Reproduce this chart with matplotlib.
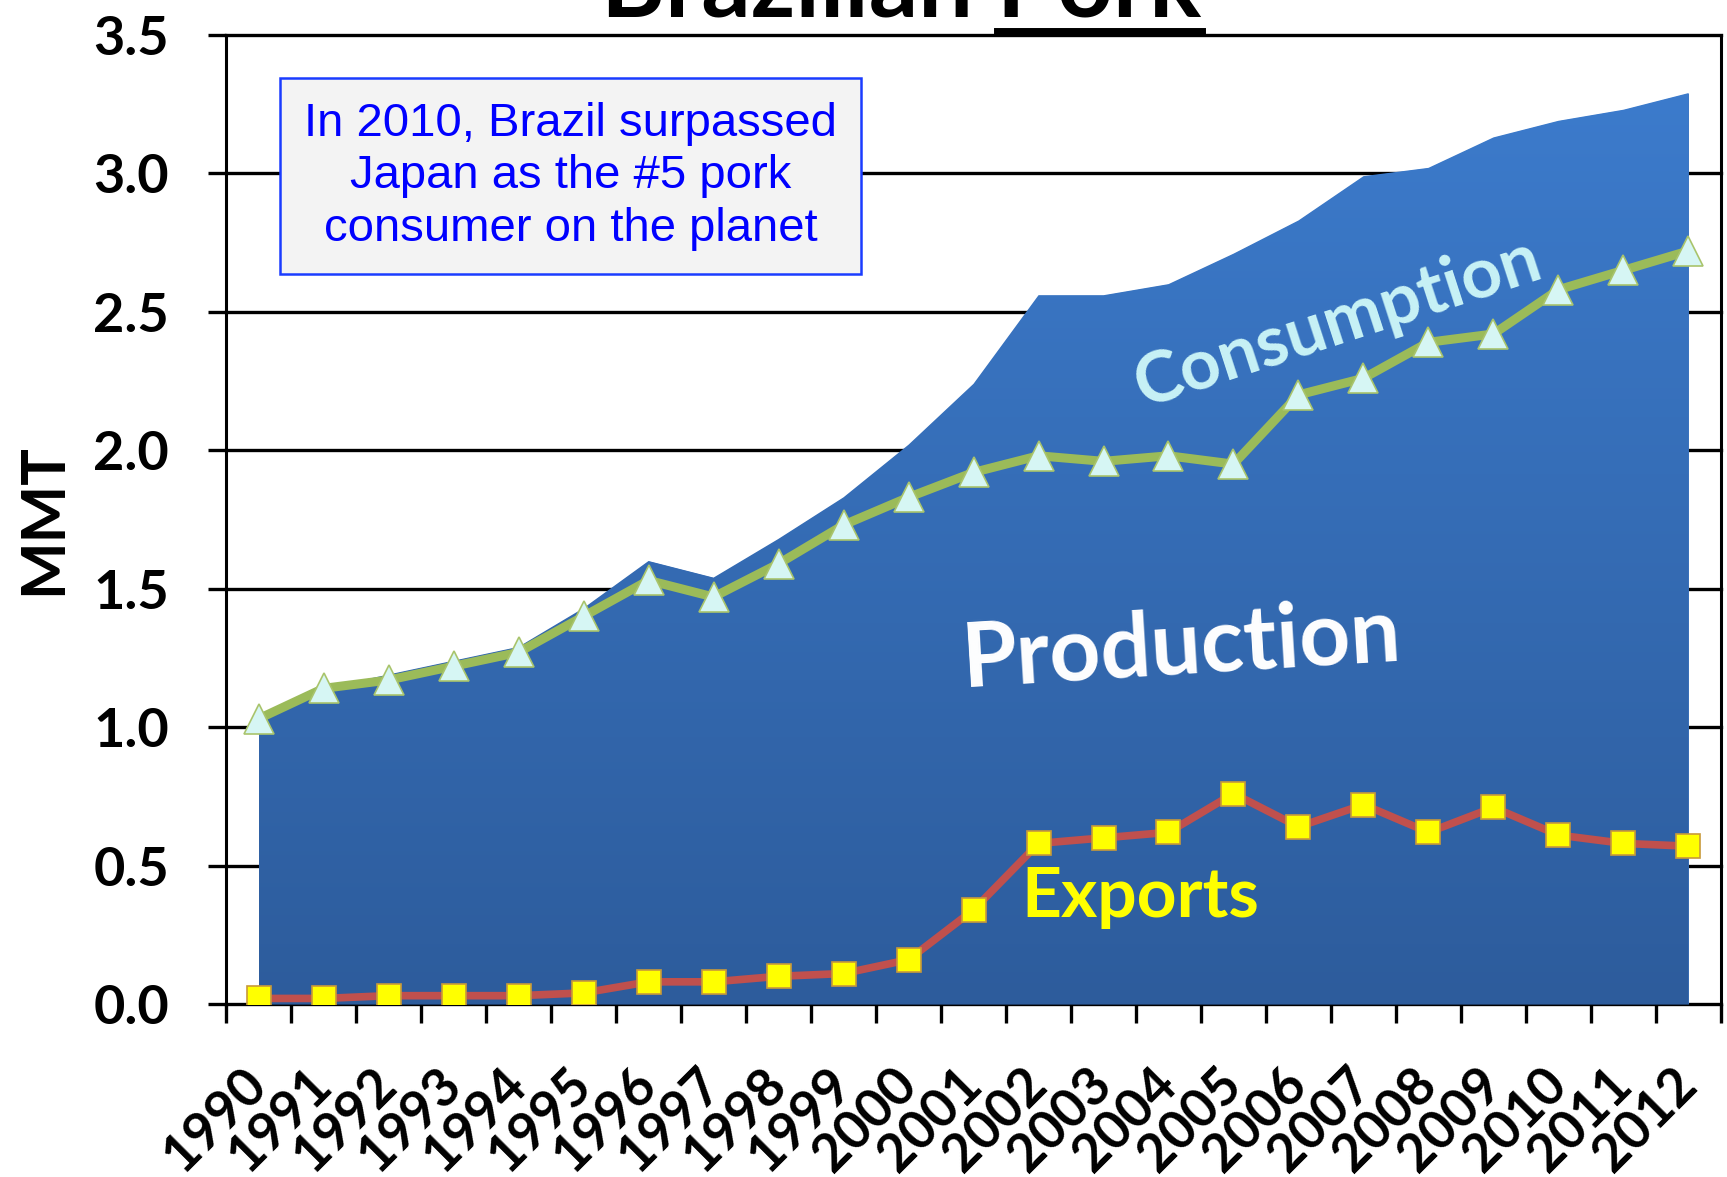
import numpy as np
import matplotlib
matplotlib.use('Agg')
import matplotlib.pyplot as plt
from matplotlib.colors import LinearSegmentedColormap

# Brazilian pork, million metric tons
years = [str(y) for y in range(1990, 2013)]
production = [1.04, 1.14, 1.19, 1.24, 1.29, 1.43, 1.60, 1.54, 1.68, 1.83, 2.02, 2.24,
              2.56, 2.56, 2.60, 2.71, 2.83, 2.99, 3.02, 3.13, 3.19, 3.23, 3.29]
consumption = [1.03, 1.14, 1.17, 1.22, 1.27, 1.40, 1.53, 1.47, 1.59, 1.73, 1.83, 1.92,
               1.98, 1.96, 1.98, 1.95, 2.20, 2.26, 2.39, 2.42, 2.58, 2.65, 2.72]
exports = [0.02, 0.02, 0.03, 0.03, 0.03, 0.04, 0.08, 0.08, 0.10, 0.11, 0.16, 0.34,
           0.58, 0.60, 0.62, 0.76, 0.64, 0.72, 0.62, 0.71, 0.61, 0.58, 0.57]
y_ticks = [0.0, 0.5, 1.0, 1.5, 2.0, 2.5, 3.0, 3.5]

font = ['Lato', 'DejaVu Sans']
x = np.arange(len(years))

fig = plt.figure(figsize=(17.27, 11.77), dpi=100)
ax = fig.add_axes([0.1309, 0.1470, 0.8656, 0.8233])

# production area with a vertical gradient
area = ax.fill_between(x, 0, production, color='#3a72c0', lw=0, zorder=2)
grad = LinearSegmentedColormap.from_list('g', ['#2d5c9c', '#3c7bcc'])
img = ax.imshow(np.linspace(0, 1, 256).reshape(-1, 1), cmap=grad, aspect='auto',
                origin='lower', extent=(x[0], x[-1], 0, max(production)), zorder=2)
img.set_clip_path(area.get_paths()[0], transform=ax.transData)

ax.plot(x, consumption, color='#9bbb59', lw=6.5, marker='^', ms=22,
        mfc='#d6f6f4', mec='#a9c46c', mew=1.2, zorder=4)
ax.plot(x, exports, color='#c0504d', lw=5.5, marker='s', ms=17,
        mfc='#ffff00', mec='#c89a3a', mew=1.2, zorder=5)

ax.set_xlim(-0.5, len(years) - 0.5)
ax.set_ylim(0, 3.5)

# grid lines behind the area
for v in y_ticks:
    ax.axhline(v, color='black', lw=2.4, zorder=1, clip_on=False)
for s in ['top', 'bottom']:
    ax.spines[s].set_visible(False)
for s in ['left', 'right']:
    ax.spines[s].set_linewidth(2.2)

ax.set_yticks(y_ticks)
ax.set_yticklabels([f'{v:.1f}' for v in y_ticks], fontfamily=font,
                   fontweight='bold', fontsize=39)
ax.tick_params(axis='y', length=13, width=2.4, pad=28)

ax.set_xticks(np.arange(-0.5, len(years), 1.0))
ax.set_xticklabels([])
ax.tick_params(axis='x', which='major', length=14, width=2.4)
ax.set_xticks(x, minor=True)
ax.set_xticklabels(years, minor=True, rotation=45, ha='right', va='center',
                   rotation_mode='anchor', fontfamily=font, fontweight='bold', fontsize=38)
ax.tick_params(axis='x', which='minor', length=0, pad=52)

ax.set_ylabel('MMT', fontfamily=font, fontweight='bold', fontsize=44, labelpad=16)

ax.text(16.6, 2.46, 'Consumption', rotation=18, color='#c8f2f6', fontfamily=font,
        fontweight='bold', fontsize=51, ha='center', va='center', zorder=6)
ax.text(14.2, 1.29, 'Production', rotation=3.5, color='white', fontfamily=font,
        fontweight='bold', fontsize=64, ha='center', va='center', zorder=6)
ax.text(13.56, 0.385, 'Exports', color='#ffff00', fontfamily=font,
        fontweight='bold', fontsize=50, ha='center', va='center', zorder=6)

ax.text(4.8, 2.99, 'In 2010, Brazil surpassed\nJapan as the #5 pork\nconsumer on the planet',
        color='#0000ff', fontfamily='Liberation Sans', fontsize=34, ha='center', va='center',
        linespacing=1.25, zorder=7,
        bbox=dict(boxstyle='square,pad=0.5', fc='#f3f3f3', ec='#1a3cff', lw=1.8))

# title mostly cut off by the top edge, "Pork" underlined
ty = 0.986
title = fig.text(0.522, ty, 'Brazilian Pork', fontfamily=font, fontweight='bold',
                 fontsize=70, ha='center', va='baseline')
fig.canvas.draw()
r = fig.canvas.get_renderer()
tb = title.get_window_extent(r)
pork = fig.text(0, 0, 'Pork', fontfamily=font, fontweight='bold', fontsize=70)
pw = pork.get_window_extent(r).width
pork.remove()
W = fig.bbox.width
fig.add_artist(plt.Line2D([(tb.x1 - pw) / W, tb.x1 / W], [ty - 0.012, ty - 0.012],
                          color='black', lw=5))

fig.savefig('out.png', dpi=100)
